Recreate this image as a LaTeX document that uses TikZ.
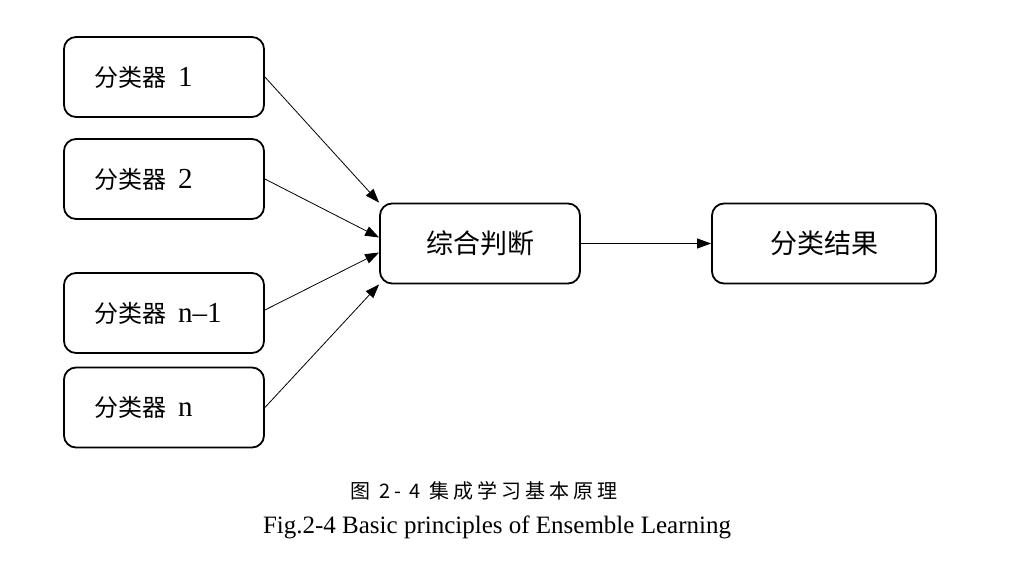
\documentclass[tikz,border=0pt]{standalone}
\usepackage{fontspec}
\setmainfont{Liberation Serif}
\newfontfamily\cjk{Noto Sans CJK SC}
\newfontfamily\cjkcap[LetterSpace=20]{Noto Sans CJK SC}
\usetikzlibrary{arrows.meta,calc}
\newcommand{\clslabel}[1]{{\cjk\fontsize{24}{26}\selectfont 分类器}\hspace*{12pt}{\fontsize{29}{30}\selectfont #1}}
\begin{document}
\begin{tikzpicture}[x=1pt,y=-1pt,
  box/.style={draw,line width=1.8pt,rounded corners=12pt,minimum height=80pt},
  clsbox/.style={box,minimum width=200pt,text width=140pt,inner xsep=30pt,align=left},
  bigbox/.style={box,font=\cjk\fontsize{27}{30}\selectfont},
  conn/.style={line width=0.8pt,-{Triangle[length=14pt,width=10pt]}}]
\useasboundingbox (0,0) rectangle (1011,573);
\node[clsbox] (c1) at (164,77) {\clslabel{1}};
\node[clsbox] (c2) at (164,179) {\clslabel{2}};
\node[clsbox] (c3) at (164,313) {\clslabel{n–1}};
\node[clsbox] (c4) at (164,407.5) {\clslabel{n}};
\node[bigbox,minimum width=200pt] (judge) at (480,243.5) {综合判断};
\node[bigbox,minimum width=224pt] (res) at (824,243.5) {分类结果};
\draw[conn] (c1.east) -- (judge.north west);
\draw[conn] (c2.east) -- ([yshift=6pt]judge.west);
\draw[conn] ([yshift=3pt]c3.east) -- ([yshift=-9pt]judge.west);
\draw[conn] (c4.east) -- (judge.south west);
\draw[conn] (judge.east) -- (res.west);
\node[font=\fontsize{20}{22}\selectfont] (cap1) at (484,491) {\cjkcap 图 2- 4 集成学习基本原理};
\node[font=\fontsize{25}{28}\selectfont] (cap2) at (497,527) {Fig.2-4 Basic principles of Ensemble Learning};
\end{tikzpicture}
\end{document}
